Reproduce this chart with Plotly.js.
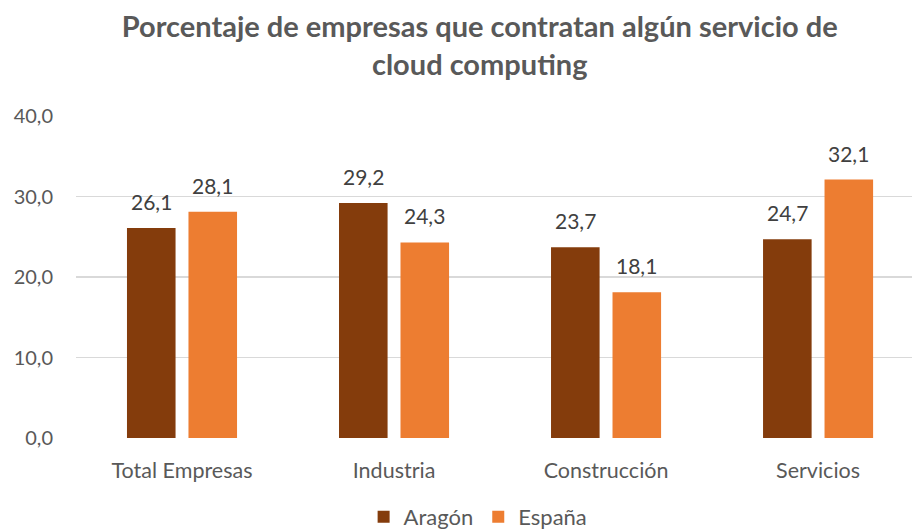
<!DOCTYPE html>
<html>
<head>
<meta charset="utf-8">
<script src="https://cdn.plot.ly/plotly-3.0.1.min.js"></script>
<style>html,body{margin:0;padding:0;background:#fff;}#chart{width:912px;height:531px;}</style>
</head>
<body>
<div id="chart"></div>
<script>
var categories = ["Total Empresas", "Industria", "Construcción", "Servicios"];
var aragon = [26.1, 29.2, 23.7, 24.7];
var espana = [28.1, 24.3, 18.1, 32.1];
var seriesNames = ["Aragón", "España"];
var yTicks = [0, 10, 20, 30, 40];

var FONT = "Lato, 'Open Sans', sans-serif";
var traces = [
  {type: "bar", name: seriesNames[0], x: categories, y: aragon, marker: {color: "#843C0C"}, hoverinfo: "skip"},
  {type: "bar", name: seriesNames[1], x: categories, y: espana, marker: {color: "#ED7D31"}, hoverinfo: "skip"}
];

var annotations = [];
[aragon, espana].forEach(function (vals, si) {
  vals.forEach(function (v, i) {
    annotations.push({
      x: categories[i], y: v, xref: "x", yref: "y",
      text: v.toFixed(1).replace(".", ","),
      showarrow: false, yanchor: "bottom", xanchor: "center",
      xshift: si === 0 ? -30.5 : 30.5, yshift: 12,
      font: {family: FONT, size: 21, color: "#404040"}
    });
  });
});

var layout = {
  width: 912, height: 531,
  margin: {l: 76, r: 0, t: 116, b: 93, autoexpand: false},
  paper_bgcolor: "#fff", plot_bgcolor: "#fff",
  separators: ",.",
  title: {
    text: "<b>Porcentaje de empresas que contratan algún servicio de<br>cloud computing</b>",
    x: 0.526, xref: "container", xanchor: "center",
    y: 0.93, yref: "container", yanchor: "top", automargin: false,
    font: {family: FONT, size: 29, color: "#595959"}
  },
  barmode: "group", bargap: 0.42, bargroupgap: 0.21,
  xaxis: {
    range: [-0.5, 3.443], showgrid: false, zeroline: false, showline: false, automargin: false,
    ticks: "", ticklabelstandoff: 17, tickfont: {family: FONT, size: 21.5, color: "#595959"}, fixedrange: true
  },
  yaxis: {
    range: [0, 40], tickvals: yTicks, tickformat: ".1f", automargin: false,
    showgrid: true, gridcolor: "#D9D9D9", gridwidth: 1.3, zeroline: false, showline: false,
    ticks: "", ticklabelstandoff: 22,
    tickfont: {family: FONT, size: 20, color: "#595959"}, fixedrange: true
  },
  showlegend: true,
  legend: {
    orientation: "h", x: 0.481, xanchor: "center", y: -0.18, yanchor: "top",
    font: {family: FONT, size: 22, color: "#595959"}, traceorder: "normal"
  },
  annotations: annotations
};

Plotly.newPlot("chart", traces, layout, {displayModeBar: false, staticPlot: true});
</script>
</body>
</html>
